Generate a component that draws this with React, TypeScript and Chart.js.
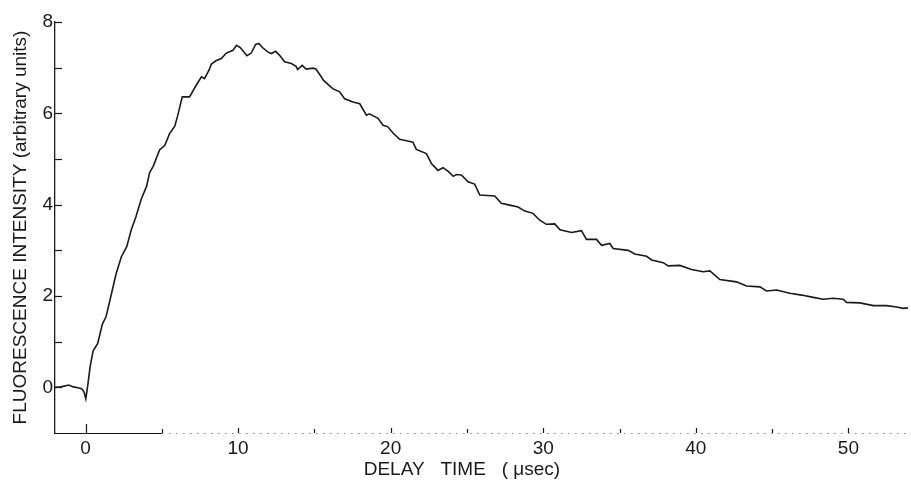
import React, { useEffect, useRef } from "react";
import { Chart, registerables } from "chart.js";

Chart.register(...registerables);

// Delay time (µs) and fluorescence intensity (arbitrary units)
const delayTimes = [
  -2.0, -1.6, -1.1, -0.8, -0.5, -0.25, -0.1, 0.02, 0.15, 0.3, 0.5, 0.8, 1.1, 1.35, 1.7, 2.0,
  2.35, 2.7, 3.0, 3.3, 3.65, 4.0, 4.2, 4.45, 4.85, 5.2, 5.5, 5.85, 6.05, 6.34, 6.82, 7.26,
  7.6, 7.8, 8.1, 8.25, 8.55, 8.9, 9.23, 9.66, 9.9, 10.14, 10.58, 10.86, 11.15, 11.35, 11.63,
  11.96, 12.18, 12.46, 12.72, 13.05, 13.49, 13.8, 13.9, 14.2, 14.46, 14.9, 15.1, 15.45, 15.6,
  16.2, 16.66, 16.98, 17.53, 17.97, 18.41, 18.6, 19.17, 19.5, 19.8, 20.15, 20.59, 21.03,
  21.46, 21.68, 22.34, 22.67, 23.1, 23.43, 23.77, 24.1, 24.3, 24.63, 25.07, 25.5, 25.84,
  26.82, 27.25, 27.8, 28.35, 28.79, 29.33, 29.77, 30.2, 30.75, 31.1, 31.85, 32.5, 32.83,
  33.49, 33.82, 34.36, 34.58, 35.56, 36.0, 36.77, 37.1, 37.86, 38.19, 38.95, 39.72, 40.48,
  40.92, 41.57, 42.66, 43.32, 44.2, 44.63, 45.3, 46.16, 46.93, 47.69, 48.35, 49.0, 49.66,
  49.87, 50.75, 51.63, 52.5, 53.15, 53.6, 53.9,
];

const intensities = [
  0.0, 0.01, 0.05, 0.01, -0.01, -0.03, -0.1, -0.25, 0.05, 0.45, 0.8, 0.96, 1.38, 1.55, 2.05, 2.48,
  2.86, 3.08, 3.45, 3.73, 4.12, 4.4, 4.7, 4.85, 5.2, 5.3, 5.55, 5.72, 5.96, 6.36, 6.36, 6.62,
  6.8, 6.76, 6.95, 7.08, 7.15, 7.2, 7.32, 7.38, 7.49, 7.44, 7.26, 7.32, 7.51, 7.53, 7.43,
  7.34, 7.31, 7.36, 7.27, 7.13, 7.09, 7.03, 6.96, 7.05, 6.97, 6.99, 6.97, 6.8, 6.72,
  6.54, 6.47, 6.32, 6.25, 6.21, 5.96, 5.99, 5.89, 5.74, 5.71, 5.57, 5.43, 5.4,
  5.37, 5.21, 5.12, 4.9, 4.75, 4.81, 4.73, 4.62, 4.66, 4.65, 4.5, 4.45, 4.21,
  4.19, 4.03, 3.99, 3.95, 3.86, 3.81, 3.66, 3.57, 3.58, 3.45, 3.39, 3.43, 3.24,
  3.24, 3.11, 3.15, 3.04, 3.0, 2.92, 2.87, 2.79, 2.73, 2.66, 2.67, 2.58, 2.53,
  2.55, 2.36, 2.31, 2.22, 2.2, 2.11, 2.13, 2.06, 2.02, 1.97, 1.93, 1.95, 1.93,
  1.86, 1.85, 1.79, 1.79, 1.76, 1.73, 1.74,
];

const xTickValues = [0, 5, 10, 15, 20, 25, 30, 35, 40, 45, 50];
const xLabelValues = [0, 10, 20, 30, 40, 50];
const yTickValues = [0, 1, 2, 3, 4, 5, 6, 7, 8];
const yLabelValues = [0, 2, 4, 6, 8];

const X_MIN = -2;
const X_MAX = 54.1;
const Y_MIN = -1;
const Y_MAX = 8;
const X_AXIS_SOLID_UNTIL = 5;

const xTitle = "DELAY   TIME   ( \u03BCsec)        ";
const yTitle = "FLUORESCENCE INTENSITY (arbitrary units)";

const FONT = "'Liberation Sans', Arial, sans-serif";
const INK = "#1a1a1a";

const axisMarks = {
  id: "axisMarks",
  afterDatasetsDraw(chart: any) {
    const { ctx, chartArea, scales } = chart;
    const x = scales.x;
    const y = scales.y;
    ctx.save();
    ctx.strokeStyle = INK;
    ctx.lineWidth = 1.2;
    // y ticks (inward)
    for (const t of y.ticks) {
      const py = Math.round(y.getPixelForValue(t.value)) + 0.5;
      ctx.beginPath();
      ctx.moveTo(chartArea.left, py);
      ctx.lineTo(chartArea.left + 7, py);
      ctx.stroke();
    }
    // x ticks (inward)
    for (const t of x.ticks) {
      const px = Math.round(x.getPixelForValue(t.value)) + 0.5;
      const len = t.value === 0 ? 9 : xLabelValues.includes(t.value) ? 5 : 4;
      ctx.beginPath();
      ctx.moveTo(px, chartArea.bottom);
      ctx.lineTo(px, chartArea.bottom - len);
      ctx.stroke();
    }
    // x axis: solid near origin, faded dotted further on
    const by = Math.round(chartArea.bottom) + 0.5;
    const solidEnd = x.getPixelForValue(X_AXIS_SOLID_UNTIL);
    ctx.beginPath();
    ctx.moveTo(chartArea.left, by);
    ctx.lineTo(solidEnd, by);
    ctx.stroke();
    ctx.strokeStyle = "#9a9a9a";
    ctx.lineWidth = 1;
    ctx.setLineDash([2, 5]);
    ctx.beginPath();
    ctx.moveTo(solidEnd, by);
    ctx.lineTo(chartArea.right, by);
    ctx.stroke();
    ctx.restore();
  },
};

export default function App() {
  const canvasRef = useRef<HTMLCanvasElement | null>(null);

  useEffect(() => {
    if (!canvasRef.current) return;
    const points = delayTimes.map((t, i) => ({ x: t, y: intensities[i] }));
    const chart = new Chart(canvasRef.current, {
      type: "line",
      data: {
        datasets: [
          {
            data: points,
            borderColor: INK,
            borderWidth: 1.6,
            pointRadius: 0,
            tension: 0,
            fill: false,
          },
        ],
      },
      options: {
        animation: false,
        responsive: true,
        maintainAspectRatio: false,
        layout: { padding: { top: 22, right: 0, left: 0, bottom: 0 } },
        plugins: {
          legend: { display: false },
          tooltip: { enabled: false },
        },
        scales: {
          x: {
            type: "linear",
            min: X_MIN,
            max: X_MAX,
            afterBuildTicks: (scale: any) => {
              scale.ticks = xTickValues.map((v) => ({ value: v }));
            },
            afterFit: (scale: any) => {
              scale.height = 49;
            },
            grid: { display: false, drawTicks: false },
            border: { display: false },
            ticks: {
              autoSkip: false,
              maxRotation: 0,
              padding: 4,
              color: INK,
              font: { family: FONT, size: 19 },
              callback: (v: any) => (xLabelValues.includes(Number(v)) ? String(v) : ""),
            },
            title: {
              display: true,
              text: xTitle,
              color: INK,
              font: { family: FONT, size: 19 },
              padding: { top: 0, bottom: 1 },
            },
          },
          y: {
            type: "linear",
            min: Y_MIN,
            max: Y_MAX,
            afterBuildTicks: (scale: any) => {
              scale.ticks = yTickValues.map((v) => ({ value: v }));
            },
            afterFit: (scale: any) => {
              scale.width = 55;
            },
            grid: { display: false, drawTicks: false },
            border: { display: true, color: INK, width: 1.3 },
            ticks: {
              autoSkip: false,
              padding: 2,
              color: INK,
              font: { family: FONT, size: 19 },
              callback: (v: any) => (yLabelValues.includes(Number(v)) ? String(v) : ""),
            },
            title: {
              display: true,
              text: yTitle,
              color: INK,
              font: { family: FONT, size: 19 },
              padding: { top: 9, bottom: 0 },
            },
          },
        },
      },
      plugins: [axisMarks],
    });
    return () => chart.destroy();
  }, []);

  return (
    <div style={{ position: "absolute", left: 0, top: 0, width: 911, height: 482 }}>
      <canvas ref={canvasRef} />
    </div>
  );
}
